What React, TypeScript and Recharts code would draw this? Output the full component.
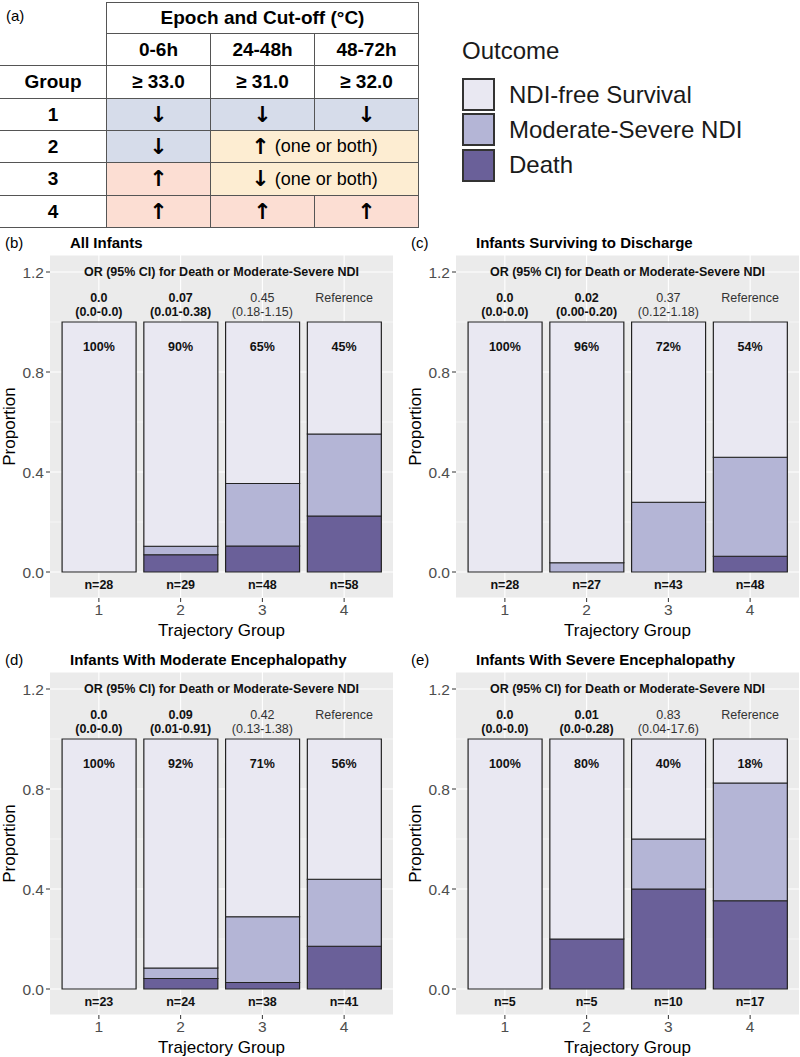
import React from 'react';
import {
  BarChart,
  Bar,
  XAxis,
  YAxis,
  CartesianGrid,
  ReferenceLine,
  ReferenceDot,
} from 'recharts';

// shared
const groups = ['1', '2', '3', '4'];
const outcomeNames = ['NDI-free Survival', 'Moderate-Severe NDI', 'Death'];
const outcomeColors = ['#E9E8F2', '#B4B5D6', '#6A6099'];
const orHeader = 'OR (95% CI) for Death or Moderate-Severe NDI';
const orSignificant = [true, true, false, false];
const majorTicks = [0, 0.4, 0.8, 1.2];
const minorTicks = [0.2, 0.6, 1.0];

// (b) all infants
const allDeath = [0, 0.069, 0.104, 0.224];
const allModerate = [0, 0.034, 0.25, 0.328];
const allFree = [1, 0.897, 0.646, 0.448];
const allN = ['n=28', 'n=29', 'n=48', 'n=58'];
const allPct = ['100%', '90%', '65%', '45%'];
const allOr = ['0.0', '0.07', '0.45', 'Reference'];
const allCi = ['(0.0-0.0)', '(0.01-0.38)', '(0.18-1.15)', ''];

// (c) surviving to discharge
const survDeath = [0, 0, 0, 0.063];
const survModerate = [0, 0.037, 0.279, 0.396];
const survFree = [1, 0.963, 0.721, 0.541];
const survN = ['n=28', 'n=27', 'n=43', 'n=48'];
const survPct = ['100%', '96%', '72%', '54%'];
const survOr = ['0.0', '0.02', '0.37', 'Reference'];
const survCi = ['(0.0-0.0)', '(0.00-0.20)', '(0.12-1.18)', ''];

// (d) moderate encephalopathy
const modDeath = [0, 0.042, 0.026, 0.171];
const modModerate = [0, 0.042, 0.263, 0.268];
const modFree = [1, 0.916, 0.711, 0.561];
const modN = ['n=23', 'n=24', 'n=38', 'n=41'];
const modPct = ['100%', '92%', '71%', '56%'];
const modOr = ['0.0', '0.09', '0.42', 'Reference'];
const modCi = ['(0.0-0.0)', '(0.01-0.91)', '(0.13-1.38)', ''];

// (e) severe encephalopathy
const sevDeath = [0, 0.2, 0.4, 0.353];
const sevModerate = [0, 0, 0.2, 0.471];
const sevFree = [1, 0.8, 0.4, 0.176];
const sevN = ['n=5', 'n=5', 'n=10', 'n=17'];
const sevPct = ['100%', '80%', '40%', '18%'];
const sevOr = ['0.0', '0.01', '0.83', 'Reference'];
const sevCi = ['(0.0-0.0)', '(0.0-0.28)', '(0.04-17.6)', ''];

// (a) table
const epochs = ['0-6h', '24-48h', '48-72h'];
const cutoffs = ['≥ 33.0', '≥ 31.0', '≥ 32.0'];
const groupRows = [
  [
    { arrow: '↓', note: '', span: 1, tone: 'low' },
    { arrow: '↓', note: '', span: 1, tone: 'low' },
    { arrow: '↓', note: '', span: 1, tone: 'low' },
  ],
  [
    { arrow: '↓', note: '', span: 1, tone: 'low' },
    { arrow: '↑', note: ' (one or both)', span: 2, tone: 'mixed' },
  ],
  [
    { arrow: '↑', note: '', span: 1, tone: 'high' },
    { arrow: '↓', note: ' (one or both)', span: 2, tone: 'mixed' },
  ],
  [
    { arrow: '↑', note: '', span: 1, tone: 'high' },
    { arrow: '↑', note: '', span: 1, tone: 'high' },
    { arrow: '↑', note: '', span: 1, tone: 'high' },
  ],
];
const toneColors: Record<string, string> = {
  low: '#D6DCEA',
  high: '#FCDED3',
  mixed: '#FDEDD2',
};

const colX = [0, 106, 210, 314, 418];
const rowY = [2, 33, 65, 98, 130, 162, 195, 227];
const border = '1px solid #555';

function Cell({
  c0,
  c1,
  r,
  bg,
  noLeft,
  bold,
  children,
}: {
  c0: number;
  c1: number;
  r: number;
  bg?: string;
  noLeft?: boolean;
  bold?: boolean;
  children?: React.ReactNode;
}) {
  return (
    <div
      style={{
        position: 'absolute',
        left: colX[c0],
        top: rowY[r],
        width: colX[c1] - colX[c0] + 1,
        height: rowY[r + 1] - rowY[r] + 1,
        boxSizing: 'border-box',
        border,
        borderLeft: noLeft ? 'none' : border,
        background: bg || '#fff',
        display: 'flex',
        alignItems: 'center',
        justifyContent: 'center',
        fontSize: 19,
        fontWeight: bold ? 'bold' : 'normal',
        color: '#000',
      }}
    >
      {children}
    </div>
  );
}

function GroupTable() {
  return (
    <div style={{ position: 'absolute', left: 0, top: 0, width: 420, height: 230 }}>
      <div style={{ position: 'absolute', left: 6, top: 7, fontSize: 15 }}>(a)</div>
      <Cell c0={1} c1={4} r={0} bold>
        Epoch and Cut-off (°C)
      </Cell>
      {epochs.map((e, i) => (
        <Cell key={e} c0={i + 1} c1={i + 2} r={1} bold>
          {e}
        </Cell>
      ))}
      <Cell c0={0} c1={1} r={2} noLeft bold>
        Group
      </Cell>
      {cutoffs.map((c, i) => (
        <Cell key={c} c0={i + 1} c1={i + 2} r={2} bold>
          {c}
        </Cell>
      ))}
      {groupRows.map((row, gi) => {
        let col = 1;
        return (
          <React.Fragment key={gi}>
            <Cell c0={0} c1={1} r={gi + 3} noLeft bold>
              {groups[gi]}
            </Cell>
            {row.map((cell, ci) => {
              const c0 = col;
              col += cell.span;
              return (
                <Cell key={ci} c0={c0} c1={c0 + cell.span} r={gi + 3} bg={toneColors[cell.tone]}>
                  <span
                    style={{
                      fontFamily: '"DejaVu Sans", sans-serif',
                      fontWeight: 'bold',
                      fontSize: 22,
                      lineHeight: '24px',
                    }}
                  >
                    {cell.arrow}
                  </span>
                  {cell.note && <span style={{ whiteSpace: 'pre', fontSize: 18 }}>{cell.note}</span>}
                </Cell>
              );
            })}
          </React.Fragment>
        );
      })}
    </div>
  );
}

function OutcomeLegend() {
  return (
    <div style={{ position: 'absolute', left: 462, top: 37, color: '#1a1a1a' }}>
      <div style={{ fontSize: 24, lineHeight: '28px', marginBottom: 12 }}>Outcome</div>
      {outcomeNames.map((name, i) => (
        <div key={name} style={{ display: 'flex', alignItems: 'center', height: 35.3 }}>
          <div
            style={{
              width: 33,
              height: 33,
              boxSizing: 'border-box',
              background: outcomeColors[i],
              border: '2px solid #333',
            }}
          />
          <span style={{ fontSize: 24, marginLeft: 14 }}>{name}</span>
        </div>
      ))}
    </div>
  );
}

interface PanelProps {
  tag: string;
  title: string;
  left: number;
  top: number;
  death: number[];
  moderate: number[];
  free: number[];
  n: string[];
  pct: string[];
  or: string[];
  ci: string[];
}

function Panel({ tag, title, left, top, death, moderate, free, n, pct, or, ci }: PanelProps) {
  const data = groups.map((g, i) => ({
    group: g,
    death: death[i],
    moderate: moderate[i],
    free: free[i],
  }));

  return (
    <div style={{ position: 'absolute', left, top, width: 400, height: 420 }}>
      <div style={{ position: 'absolute', left: 5, top: 9, fontSize: 15, lineHeight: '18px' }}>{tag}</div>
      <div
        style={{
          position: 'absolute',
          left: 70,
          top: 9,
          fontSize: 15,
          lineHeight: '18px',
          fontWeight: 'bold',
        }}
      >
        {title}
      </div>
      <BarChart
        width={400}
        height={420}
        data={data}
        margin={{ top: 30, right: 7, bottom: 0, left: 0 }}
        barCategoryGap="5%"
      >
        <CartesianGrid fill="#EBEBEB" stroke="#FFFFFF" strokeWidth={1.1} vertical={false} />
        {minorTicks.map((v) => (
          <ReferenceLine key={'m' + v} y={v} stroke="#FFFFFF" strokeWidth={0.5} zIndex={-60} />
        ))}
        {groups.map((g) => (
          <ReferenceLine key={'v' + g} x={g} stroke="#FFFFFF" strokeWidth={1.1} zIndex={-60} />
        ))}
        <XAxis
          dataKey="group"
          padding={{ left: 8, right: 8 }}
          axisLine={false}
          tickSize={4}
          tickLine={{ stroke: '#333' }}
          tick={{ fill: '#4D4D4D', fontSize: 15.5 }}
          height={47}
          label={{ value: 'Trajectory Group', position: 'insideBottom', offset: 9, fill: '#000', fontSize: 17 }}
        />
        <YAxis
          type="number"
          domain={[-0.104, 1.268]}
          allowDataOverflow
          ticks={majorTicks}
          tickFormatter={(v: number) => v.toFixed(1)}
          axisLine={false}
          tickSize={4}
          tickLine={{ stroke: '#333' }}
          tick={{ fill: '#4D4D4D', fontSize: 15.5 }}
          width={50}
          label={{
            value: 'Proportion',
            angle: -90,
            position: 'insideLeft',
            offset: 9,
            fill: '#000',
            fontSize: 17,
            style: { textAnchor: 'middle' },
          }}
        />
        <Bar dataKey="death" stackId="a" fill={outcomeColors[2]} stroke="#222" strokeWidth={1.2} isAnimationActive={false} />
        <Bar dataKey="moderate" stackId="a" fill={outcomeColors[1]} stroke="#222" strokeWidth={1.2} isAnimationActive={false} />
        <Bar dataKey="free" stackId="a" fill={outcomeColors[0]} stroke="#222" strokeWidth={1.2} isAnimationActive={false} />
        <ReferenceLine
          y={1.2}
          stroke="none"
          label={{ value: orHeader, position: 'center', fontSize: 12.5, fontWeight: 'bold', fill: '#111' }}
        />
        {groups.map((g, i) => (
          <ReferenceDot
            key={'or' + g}
            x={g}
            y={1.07}
            r={0}
            fill="none"
            stroke="none"
            label={(props: any) => {
              const vb = props.viewBox || {};
              const cx = (vb.x ?? 0) + (vb.width ?? 0) / 2;
              const cy = (vb.y ?? 0) + (vb.height ?? 0) / 2;
              return (
                <text
                  textAnchor="middle"
                  fontSize={12.5}
                  fontWeight={orSignificant[i] ? 'bold' : 'normal'}
                  fill={orSignificant[i] ? '#111' : '#333'}
                >
                  <tspan x={cx} y={cy - 3}>
                    {or[i]}
                  </tspan>
                  {ci[i] && (
                    <tspan x={cx} y={cy + 11}>
                      {ci[i]}
                    </tspan>
                  )}
                </text>
              );
            }}
          />
        ))}
        {groups.map((g, i) => (
          <ReferenceDot
            key={'p' + g}
            x={g}
            y={0.9}
            r={0}
            fill="none"
            stroke="none"
            label={{ value: pct[i], position: 'center', fontSize: 12.5, fontWeight: 'bold', fill: '#111' }}
          />
        ))}
        {groups.map((g, i) => (
          <ReferenceDot
            key={'n' + g}
            x={g}
            y={-0.05}
            r={0}
            fill="none"
            stroke="none"
            label={{ value: n[i], position: 'center', fontSize: 12.5, fontWeight: 'bold', fill: '#111' }}
          />
        ))}
      </BarChart>
    </div>
  );
}

export default function App() {
  return (
    <div
      style={{
        position: 'absolute',
        left: 0,
        top: 0,
        width: 800,
        height: 1057,
        overflow: 'hidden',
        background: '#fff',
        fontFamily: '"Liberation Sans", Arial, sans-serif',
      }}
    >
      <GroupTable />
      <OutcomeLegend />
      <Panel
        tag="(b)"
        title="All Infants"
        left={0}
        top={225}
        death={allDeath}
        moderate={allModerate}
        free={allFree}
        n={allN}
        pct={allPct}
        or={allOr}
        ci={allCi}
      />
      <Panel
        tag="(c)"
        title="Infants Surviving to Discharge"
        left={406}
        top={225}
        death={survDeath}
        moderate={survModerate}
        free={survFree}
        n={survN}
        pct={survPct}
        or={survOr}
        ci={survCi}
      />
      <Panel
        tag="(d)"
        title="Infants With Moderate Encephalopathy"
        left={0}
        top={642}
        death={modDeath}
        moderate={modModerate}
        free={modFree}
        n={modN}
        pct={modPct}
        or={modOr}
        ci={modCi}
      />
      <Panel
        tag="(e)"
        title="Infants With Severe Encephalopathy"
        left={406}
        top={642}
        death={sevDeath}
        moderate={sevModerate}
        free={sevFree}
        n={sevN}
        pct={sevPct}
        or={sevOr}
        ci={sevCi}
      />
    </div>
  );
}
